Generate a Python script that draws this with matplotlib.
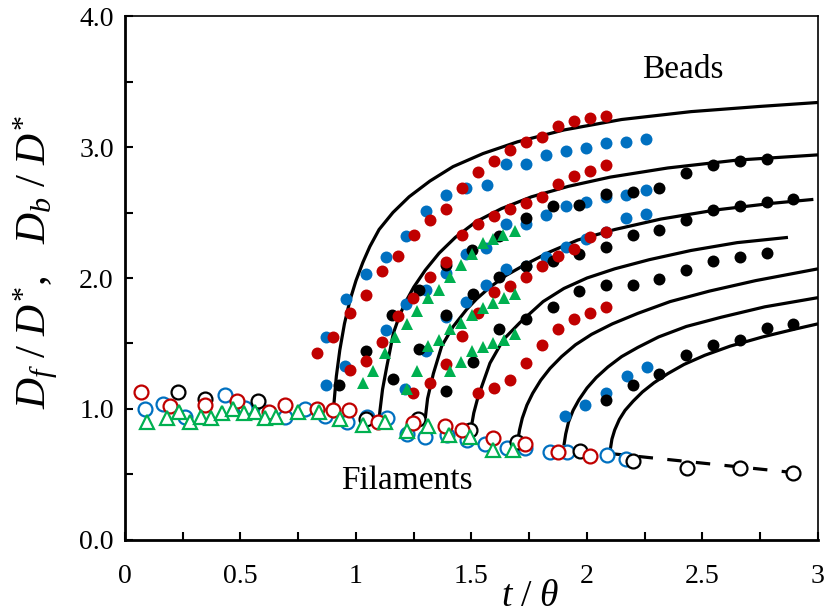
import matplotlib
matplotlib.use("Agg")
import matplotlib.pyplot as plt
from matplotlib.ticker import MultipleLocator, FixedLocator, FuncFormatter

plt.rcParams["font.family"] = ["Liberation Serif", "DejaVu Serif"]
plt.rcParams["mathtext.fontset"] = "custom"
plt.rcParams["mathtext.rm"] = "Liberation Serif"
plt.rcParams["mathtext.it"] = "Liberation Serif:italic"
plt.rcParams["mathtext.bf"] = "Liberation Serif:bold"

RED = "#C00000"
BLUE = "#0070C0"
GREEN = "#00B050"
BLACK = "#000000"

# ---------------- bead diameters (closed symbols) ----------------
bead_blue_t = [0.869, 0.957, 1.042, 1.129, 1.216, 1.303, 1.390, 1.476, 1.566, 1.649, 1.736, 1.823, 1.909, 1.996, 2.082, 2.169, 2.255,
               0.869, 0.952, 1.129, 1.216, 1.303, 1.390, 1.476, 1.563, 1.649, 1.736, 1.823, 1.909, 1.996, 2.082, 2.169, 2.255,
               1.212, 1.303, 1.390, 1.476, 1.563, 1.649, 1.736, 1.823, 1.909, 1.996, 2.082, 2.169, 2.255,
               1.905, 1.991, 2.082, 2.172, 2.258]
bead_blue_y = [1.55, 1.84, 2.03, 2.16, 2.32, 2.51, 2.63, 2.69, 2.71, 2.87, 2.87, 2.94, 2.97, 2.99, 3.03, 3.04, 3.06,
               1.18, 1.33, 1.60, 1.80, 1.91, 2.04, 2.18, 2.23, 2.41, 2.41, 2.48, 2.55, 2.58, 2.62, 2.63, 2.67,
               1.15, 1.44, 1.70, 1.82, 1.95, 2.07, 2.09, 2.16, 2.24, 2.30, 2.35, 2.46, 2.49,
               0.95, 1.03, 1.12, 1.25, 1.32]

bead_black_t = [0.928, 1.043, 1.154, 1.274, 1.388, 1.504, 1.621, 1.736, 1.851, 1.967, 2.082, 2.198, 2.313, 2.429, 2.547, 2.662, 2.778,
                1.159, 1.274, 1.390, 1.505, 1.621, 1.736, 1.851, 1.967, 2.082, 2.201, 2.313, 2.429, 2.547, 2.662, 2.778, 2.893,
                1.390, 1.505, 1.621, 1.736, 1.851, 1.967, 2.082, 2.201, 2.313, 2.429, 2.547, 2.662, 2.778,
                2.082, 2.201, 2.313, 2.429, 2.547, 2.662, 2.778, 2.893]
bead_black_y = [1.18, 1.44, 1.72, 1.91, 2.10, 2.21, 2.32, 2.46, 2.55, 2.56, 2.64, 2.66, 2.69, 2.80, 2.86, 2.89, 2.91,
                1.23, 1.46, 1.72, 1.88, 2.01, 2.09, 2.13, 2.18, 2.24, 2.33, 2.37, 2.44, 2.52, 2.55, 2.58, 2.60,
                1.14, 1.36, 1.61, 1.69, 1.78, 1.90, 1.95, 1.95, 1.99, 2.06, 2.13, 2.16, 2.19,
                1.07, 1.18, 1.27, 1.41, 1.49, 1.53, 1.62, 1.65]

bead_red_t = [0.832, 0.902, 0.974, 1.043, 1.111, 1.181, 1.251, 1.320, 1.390, 1.460, 1.529, 1.597, 1.667, 1.735, 1.806, 1.875, 1.945, 2.013, 2.082,
              0.974, 1.043, 1.111, 1.181, 1.248, 1.320, 1.390, 1.460, 1.529, 1.597, 1.667, 1.736, 1.806, 1.875, 1.945, 2.013, 2.082,
              1.248, 1.320, 1.390, 1.460, 1.529, 1.599, 1.667, 1.735, 1.806, 1.875, 1.945, 2.013, 2.082,
              1.529, 1.597, 1.667, 1.735, 1.806, 1.875, 1.945, 2.013, 2.082]
bead_red_y = [1.43, 1.55, 1.73, 1.87, 2.05, 2.17, 2.33, 2.44, 2.53, 2.69, 2.81, 2.89, 2.98, 3.04, 3.08, 3.16, 3.20, 3.22, 3.24,
              1.30, 1.37, 1.51, 1.71, 1.85, 2.01, 2.12, 2.33, 2.41, 2.47, 2.53, 2.57, 2.62, 2.72, 2.78, 2.82, 2.86,
              1.12, 1.20, 1.34, 1.56, 1.73, 1.89, 1.94, 2.01, 2.09, 2.17, 2.22, 2.31, 2.35,
              1.12, 1.16, 1.22, 1.35, 1.49, 1.61, 1.69, 1.73, 1.78]

bead_green_t = [1.032, 1.075, 1.126, 1.169, 1.219, 1.263, 1.313, 1.361, 1.407, 1.455, 1.501, 1.548, 1.595, 1.638, 1.688,
                1.266, 1.313, 1.361, 1.407, 1.455, 1.501, 1.548, 1.595, 1.641, 1.688,
                1.219, 1.407, 1.453, 1.501, 1.548, 1.595, 1.641, 1.688]
bead_green_y = [1.20, 1.29, 1.43, 1.55, 1.65, 1.75, 1.85, 1.91, 2.01, 2.10, 2.18, 2.27, 2.30, 2.33, 2.36,
                1.29, 1.48, 1.53, 1.61, 1.66, 1.72, 1.77, 1.81, 1.85, 1.88,
                1.15, 1.29, 1.36, 1.44, 1.47, 1.50, 1.53, 1.57]

# ---------------- filament diameters (open symbols) ----------------
fil_blue_t = [0.087, 0.166, 0.260, 0.433, 0.520, 0.606, 0.693, 0.779, 0.866, 0.960, 1.046, 1.133, 1.219, 1.299, 1.392,
              1.479, 1.558, 1.652, 1.732, 1.840, 1.912, 2.085, 2.169]
fil_blue_y = [1.00, 1.04, 0.94, 1.11, 1.01, 0.98, 0.94, 1.00, 0.95, 0.90, 0.94, 0.93, 0.81, 0.79, 0.80,
              0.76, 0.73, 0.70, 0.70, 0.67, 0.67, 0.65, 0.62]

fil_black_t = [0.231, 0.346, 0.577, 1.043, 1.270, 1.494, 1.695, 1.970, 2.201, 2.431, 2.662, 2.893]
fil_black_y = [1.13, 1.08, 1.06, 0.92, 0.92, 0.84, 0.75, 0.68, 0.60, 0.55, 0.55, 0.51]

fil_red_t = [0.068, 0.193, 0.346, 0.483, 0.625, 0.693, 0.832, 0.902, 0.971, 1.097, 1.248, 1.385, 1.458, 1.595,
             1.732, 1.876, 2.013]
fil_red_y = [1.13, 1.02, 1.03, 1.06, 0.98, 1.03, 1.00, 0.99, 0.99, 0.90, 0.89, 0.87, 0.84, 0.78,
             0.73, 0.67, 0.64]

fil_green_t = [0.094, 0.183, 0.235, 0.281, 0.327, 0.371, 0.418, 0.469, 0.515, 0.563, 0.606, 0.654, 0.750, 0.841,
               0.931, 1.029, 1.126, 1.219, 1.313, 1.404, 1.494, 1.595, 1.681]
fil_green_y = [0.90, 0.93, 0.98, 0.90, 0.94, 0.93, 0.97, 1.00, 0.97, 0.98, 0.93, 0.94, 0.98, 0.98,
               0.92, 0.88, 0.90, 0.83, 0.87, 0.80, 0.79, 0.69, 0.69]

# ---------------- model curves for bead growth ----------------
curve_a_t = [0.900, 0.905, 0.915, 0.930, 0.950, 0.974, 1.000, 1.030, 1.060, 1.100, 1.160, 1.230, 1.320, 1.420, 1.550,
             1.700, 1.900, 2.150, 2.450, 2.750, 3.000]
curve_a_y = [0.93, 1.05, 1.25, 1.45, 1.65, 1.83, 1.98, 2.12, 2.24, 2.37, 2.50, 2.62, 2.74, 2.85, 2.95,
             3.04, 3.13, 3.21, 3.27, 3.31, 3.34]

curve_b_t = [1.100, 1.104, 1.115, 1.133, 1.162, 1.190, 1.219, 1.250, 1.300, 1.360, 1.430, 1.520, 1.630, 1.760, 1.920,
             2.100, 2.350, 2.650, 3.000]
curve_b_y = [0.92, 0.99, 1.15, 1.32, 1.58, 1.72, 1.83, 1.93, 2.06, 2.19, 2.31, 2.43, 2.53, 2.62, 2.70,
             2.77, 2.84, 2.90, 2.94]

curve_c_t = [1.300, 1.310, 1.335, 1.371, 1.421, 1.479, 1.522, 1.580, 1.650, 1.740, 1.840, 1.960, 2.120, 2.320, 2.560,
             2.800, 2.980]
curve_c_y = [0.93, 1.08, 1.27, 1.48, 1.63, 1.76, 1.84, 1.93, 2.02, 2.11, 2.20, 2.29, 2.37, 2.45, 2.52,
             2.57, 2.60]

curve_d_t = [1.500, 1.510, 1.525, 1.544, 1.580, 1.638, 1.710, 1.810, 1.900, 2.000, 2.120, 2.270, 2.450, 2.650, 2.870]
curve_d_y = [0.87, 0.97, 1.07, 1.17, 1.35, 1.53, 1.66, 1.82, 1.92, 2.00, 2.07, 2.14, 2.21, 2.27, 2.31]

curve_e_t = [1.700, 1.708, 1.720, 1.740, 1.765, 1.800, 1.840, 1.890, 1.950, 2.020, 2.110, 2.220, 2.360, 2.530, 2.730,
             3.000]
curve_e_y = [0.75, 0.84, 0.93, 1.03, 1.12, 1.22, 1.31, 1.40, 1.49, 1.57, 1.65, 1.73, 1.82, 1.90, 1.98,
             2.07]

curve_f_t = [1.900, 1.908, 1.920, 1.940, 1.965, 2.000, 2.040, 2.090, 2.150, 2.220, 2.310, 2.430, 2.580, 2.770, 3.000]
curve_f_y = [0.72, 0.81, 0.90, 0.99, 1.07, 1.16, 1.24, 1.32, 1.40, 1.47, 1.55, 1.63, 1.70, 1.78, 1.85]

curve_g_t = [2.100, 2.108, 2.120, 2.140, 2.165, 2.200, 2.240, 2.290, 2.350, 2.420, 2.510, 2.620, 2.760, 2.900, 3.000]
curve_g_y = [0.68, 0.77, 0.84, 0.92, 0.99, 1.06, 1.13, 1.20, 1.27, 1.34, 1.41, 1.48, 1.55, 1.61, 1.65]

# filament thinning model beyond the last breakup
fil_model_t = [2.10, 2.92]
fil_model_y = [0.66, 0.51]

x_ticks = [0, 0.5, 1, 1.5, 2, 2.5, 3]
y_ticks = [0.0, 1.0, 2.0, 3.0, 4.0]

fig = plt.figure(figsize=(8.26, 6.16), dpi=100)
ax = fig.add_axes([0.1513, 0.1234, 0.8390, 0.8506])

curves = [(curve_a_t, curve_a_y), (curve_b_t, curve_b_y), (curve_c_t, curve_c_y), (curve_d_t, curve_d_y),
          (curve_e_t, curve_e_y), (curve_f_t, curve_f_y), (curve_g_t, curve_g_y)]
for ct, cy in curves:
    ax.plot(ct, cy, color=BLACK, lw=2.3, solid_capstyle="butt", zorder=2)
ax.plot(fil_model_t, fil_model_y, color=BLACK, lw=2.3, ls=(0, (4.5, 4.5)), zorder=2)

# closed symbols: beads
ms_c = 8.6
ax.plot(bead_blue_t, bead_blue_y, "o", ms=ms_c, mfc=BLUE, mec=BLUE, mew=0, zorder=3)
ax.plot(bead_black_t, bead_black_y, "o", ms=ms_c, mfc=BLACK, mec=BLACK, mew=0, zorder=3)
ax.plot(bead_red_t, bead_red_y, "o", ms=ms_c, mfc=RED, mec=RED, mew=0, zorder=3)
ax.plot(bead_green_t, bead_green_y, "^", ms=9.0, mfc=GREEN, mec=GREEN, mew=0, zorder=3)

# open symbols: filaments
ms_o = 10.0
ax.plot(fil_blue_t, fil_blue_y, "o", ms=ms_o, mfc="white", mec=BLUE, mew=1.6, zorder=4)
ax.plot(fil_black_t, fil_black_y, "o", ms=ms_o, mfc="white", mec=BLACK, mew=1.6, zorder=4)
ax.plot(fil_red_t, fil_red_y, "o", ms=ms_o, mfc="white", mec=RED, mew=1.6, zorder=4)
ax.plot(fil_green_t, fil_green_y, "^", ms=10.5, mfc="white", mec=GREEN, mew=1.6, zorder=4)

ax.text(2.416, 3.59, "Beads", fontsize=24, ha="center", va="center")
ax.text(1.221, 0.45, "Filaments", fontsize=24, ha="center", va="center")

ax.set_xlim(0, 3)
ax.set_ylim(0, 4)
ax.xaxis.set_major_locator(FixedLocator(x_ticks))
ax.xaxis.set_minor_locator(MultipleLocator(0.25))
ax.yaxis.set_major_locator(FixedLocator(y_ticks))
ax.yaxis.set_minor_locator(MultipleLocator(0.5))
ax.xaxis.set_major_formatter(FuncFormatter(lambda v, p: f"{v:g}"))
ax.yaxis.set_major_formatter(FuncFormatter(lambda v, p: f"{v:.1f}"))
ax.tick_params(which="both", direction="in", length=6, width=1.5, labelsize=20)
ax.tick_params(axis="x", pad=17)
ax.tick_params(axis="y", pad=8)

for side in ("left", "bottom"):
    ax.spines[side].set_linewidth(2.0)
for side in ("top", "right"):
    ax.spines[side].set_linewidth(1.2)

ax.set_xlabel(r"$t\ /\ \theta$", fontsize=27)
ax.xaxis.label.set_va("center")
ax.xaxis.set_label_coords(0.585, -0.108)

ax.set_ylabel(r"$D_f\ /\ D^{*}\mathrm{,}\ \ \ D_b\ /\ D^{*}$", fontsize=31)
ax.yaxis.label.set_va("center")
ax.yaxis.set_label_coords(-0.128, 0.53)

fig.savefig("out.png", dpi=100)
